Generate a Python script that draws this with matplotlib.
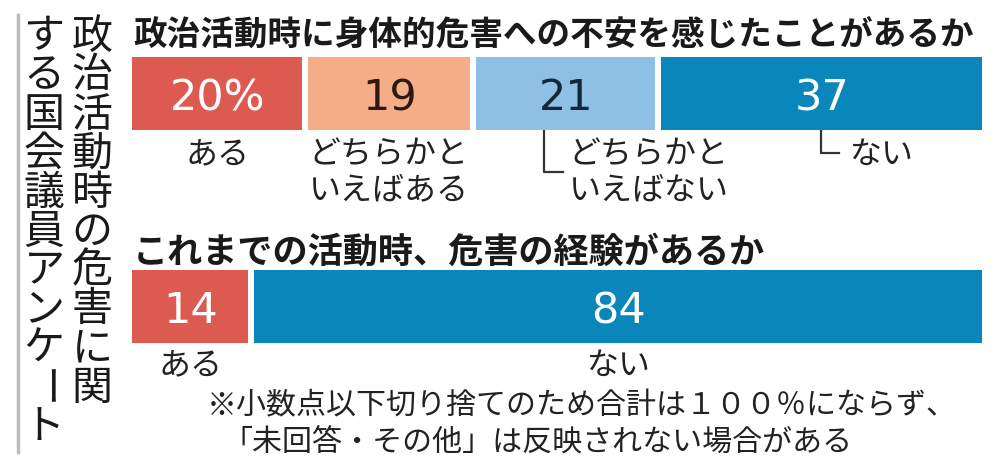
import matplotlib
matplotlib.use("Agg")
import matplotlib.pyplot as plt
from matplotlib.lines import Line2D
from matplotlib.transforms import blended_transform_factory

plt.rcParams['font.family'] = ['Noto Sans CJK JP', 'DejaVu Sans']

W, H = 1000, 468

# data
side_title = ["政治活動時の危害に関", "する国会議員アンケート"]

q1_title = "政治活動時に身体的危害への不安を感じたことがあるか"
q1_values = [20, 19, 21, 37]
q1_labels = [["ある"], ["どちらかと", "いえばある"], ["どちらかと", "いえばない"], ["ない"]]

q2_title = "これまでの活動時、危害の経験があるか"
q2_values = [14, 84]
q2_labels = [["ある"], ["ない"]]

note_lines = ["※小数点以下切り捨てのため合計は１００％にならず、",
              "「未回答・その他」は反映されない場合がある"]

# styles
RED = '#DC5A50'
SALMON = '#F5AD88'
LIGHTBLUE = '#8EC0E6'
BLUE = '#0A87BA'
q1_colors = [RED, SALMON, LIGHTBLUE, BLUE]
q1_numcolors = ['white', '#2a1a12', '#15253a', 'white']
q2_colors = [RED, BLUE]
q2_numcolors = ['white', 'white']

# label placement per bar (pixel offsets)
q1_place = [{'mode': 'center'},
            {'mode': 'left'},
            {'mode': 'hook', 'line_dx': -22, 'line_end': -3, 'line_y': 172, 'text_dx': 3},
            {'mode': 'hook', 'line_dx': -1, 'line_end': 17, 'line_y': 153, 'text_dx': 27}]
q2_place = [{'mode': 'center'}, {'mode': 'center'}]


def fx(x):
    return x / W


def fy(y):
    return 1 - y / H


fig = plt.figure(figsize=(W / 100, H / 100), dpi=100)


def bar_row(top, values, colors, numcolors, labels, place, label_y, first_pct):
    # axes spans a bit more than the visible bars: white edges eat 3px
    ax = fig.add_axes([fx(129), fy(top + 76), fx(856), 79 / H])
    total = sum(values)
    lefts = [sum(values[:i]) for i in range(len(values))]
    ax.barh(0, values, left=lefts, height=1, color=colors,
            edgecolor='white', linewidth=4.3)
    ax.set_xlim(0, total)
    ax.set_ylim(-0.5, 0.5)
    ax.axis('off')
    upp = total / 856  # data units per pixel
    blend = blended_transform_factory(ax.transData, fig.transFigure)
    for i, v in enumerate(values):
        c = lefts[i] + v / 2
        s = f"{v}%" if (i == 0 and first_pct) else f"{v}"
        ax.text(c, -0.06, s, ha='center', va='center', fontsize=31,
                color=numcolors[i], family='DejaVu Sans')
        p = place[i]
        if p['mode'] == 'center':
            x, ha = c, 'center'
        elif p['mode'] == 'left':
            x, ha = lefts[i] + 3 * upp, 'left'
        else:
            lx = c + p['line_dx'] * upp
            ax.plot([lx, lx, c + p['line_end'] * upp],
                    [fy(top + 74), fy(p['line_y']), fy(p['line_y'])],
                    transform=blend, clip_on=False, color='#333333', lw=1.6)
            x, ha = c + p['text_dx'] * upp, 'left'
        for j, line in enumerate(labels[i]):
            ax.text(x, fy(label_y[j]), line, transform=blend, ha=ha,
                    va='center', fontsize=23, color='#222222')
    return ax


# vertical side title
fig.add_artist(Line2D([fx(18), fx(18)], [fy(15), fy(452)],
                      color='#bdbdbd', lw=2.5))
for col, cx in zip(side_title, [92, 44]):
    for k, ch in enumerate(col):
        fig.text(fx(cx), fy(37 + k * 39), ch, ha='center', va='center',
                 fontsize=29.5, color='#1a1a1a',
                 rotation=-90 if ch == 'ー' else 0)

# question 1
fig.text(fx(133), fy(36), q1_title, ha='left', va='center', fontsize=24.2,
         fontweight='bold', color='#1a1a1a')
bar_row(57, q1_values, q1_colors, q1_numcolors, q1_labels, q1_place,
        [155, 190], True)

# question 2
fig.text(fx(133), fy(252), q2_title, ha='left', va='center', fontsize=25.3,
         fontweight='bold', color='#1a1a1a')
bar_row(270, q2_values, q2_colors, q2_numcolors, q2_labels, q2_place,
        [366], False)

# footnote
fig.text(fx(207), fy(406), note_lines[0], ha='left', va='center',
         fontsize=21.6, color='#222222')
fig.text(fx(222), fy(443), note_lines[1], ha='left', va='center',
         fontsize=21.6, color='#222222')

fig.savefig('out.png', dpi=100, facecolor='white')
